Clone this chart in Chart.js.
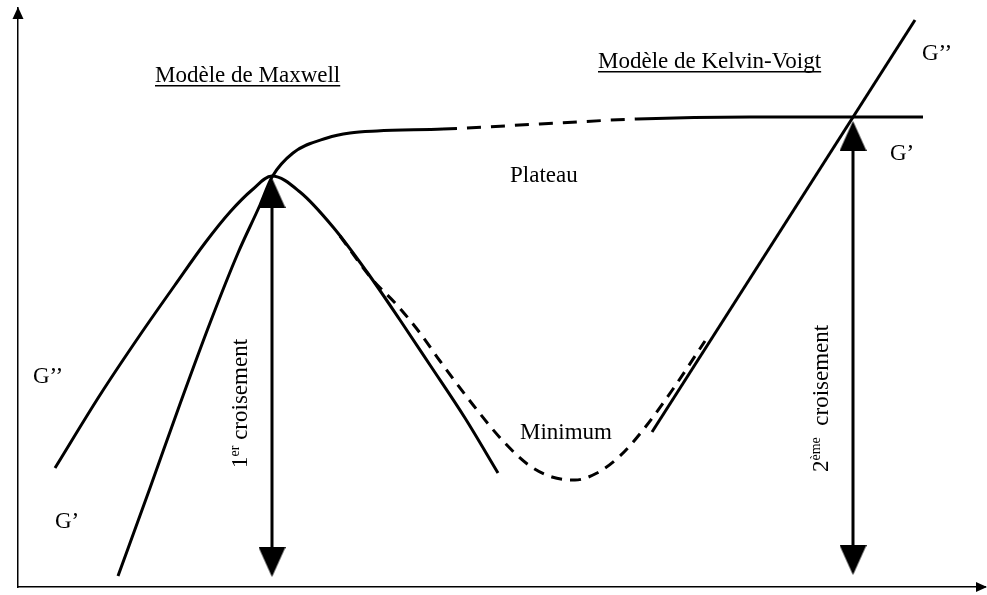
<!DOCTYPE html>
<html lang="fr">
<head>
  <meta charset="UTF-8">
  <title>G' et G'' - Maxwell / Kelvin-Voigt</title>
  <script src="https://cdn.jsdelivr.net/npm/chart.js"></script>
  <style>
    body {
      margin: 0;
      background: #fff;
    }
    canvas {
      display: block;
    }
  </style>
</head>
<body>
  <canvas id="modulesChart" width="987" height="595"></canvas>

  <script>
    // G'' côté Maxwell (la bosse)
    const g2MaxwellX = [37, 82, 122, 157, 187, 212, 234, 254, 282, 315, 349, 382, 412, 447, 480];
    const g2MaxwellY = [119, 192, 252, 302, 344, 375, 397, 411, 395, 360, 315, 267, 222, 169, 114];

    // G' : montée puis plateau
    const g1X = [100, 132, 162, 192, 220, 242, 254, 275, 309, 332, 359, 425, 522, 619, 732, 835, 905];
    const g1Y = [11, 99, 183, 264, 334, 382, 410, 434, 449, 454, 456, 458, 463, 468, 470, 470, 470];
    const plateauDashFrom = 425;
    const plateauDashTo = 619;

    // G'' réel en pointillés (le minimum)
    const g2RealX = [322, 354, 379, 402, 422, 452, 485, 512, 534, 557, 579, 602, 625, 655, 687];
    const g2RealY = [351, 308, 282, 254, 226, 186, 146, 121, 110, 107, 114, 131, 157, 198, 246];

    // G'' côté Kelvin-Voigt
    const g2KelvinX = [634, 897];
    const g2KelvinY = [155, 567];

    // les deux croisements (flèches)
    const cross1X = [254, 254];
    const cross1Y = [394, 25];
    const cross2X = [835, 835];
    const cross2Y = [451, 27];

    const toPoints = (xs, ys) => xs.map((x, i) => ({ x: x, y: ys[i] }));

    // tête de flèche des croisements
    function arrowHead(w, h) {
      const c = document.createElement('canvas');
      c.width = w;
      c.height = h;
      const g = c.getContext('2d');
      g.fillStyle = '#000';
      g.beginPath();
      g.moveTo(w / 2, 0);
      g.lineTo(w, h);
      g.lineTo(0, h);
      g.closePath();
      g.fill();
      return c;
    }
    const head = arrowHead(27, 30);

    const FONT = '23px "Liberation Serif", "DejaVu Serif", serif';

    const notes = [
      { text: 'Modèle de Maxwell', x: 137, y: 505, underline: true },
      { text: 'Modèle de Kelvin-Voigt', x: 580, y: 519, underline: true },
      { text: 'Plateau', x: 492, y: 405 },
      { text: 'Minimum', x: 502, y: 148 },
      { text: 'G’’', x: 904, y: 527 },
      { text: 'G’', x: 872, y: 427 },
      { text: 'G’’', x: 15, y: 204 },
      { text: 'G’', x: 37, y: 59 }
    ];
    const verticalNotes = [
      { base: '1', sup: 'er', rest: ' croisement', x: 229, y: 119 },
      { base: '2', sup: 'ème', rest: '  croisement', x: 810, y: 115 }
    ];

    const decorations = {
      id: 'decorations',
      afterDraw(chart) {
        const { ctx, chartArea: a, scales: { x, y } } = chart;
        ctx.save();
        ctx.fillStyle = '#000';

        // flèches des axes
        ctx.beginPath();
        ctx.moveTo(a.left, a.top - 1);
        ctx.lineTo(a.left + 5.5, a.top + 11);
        ctx.lineTo(a.left - 5.5, a.top + 11);
        ctx.closePath();
        ctx.fill();
        ctx.beginPath();
        ctx.moveTo(a.right + 2, a.bottom);
        ctx.lineTo(a.right - 9, a.bottom - 5);
        ctx.lineTo(a.right - 9, a.bottom + 5);
        ctx.closePath();
        ctx.fill();

        ctx.font = FONT;
        ctx.textBaseline = 'alphabetic';
        ctx.textAlign = 'left';
        notes.forEach(n => {
          const px = x.getPixelForValue(n.x);
          const py = y.getPixelForValue(n.y);
          ctx.fillText(n.text, px, py);
          if (n.underline) {
            const w = ctx.measureText(n.text).width;
            ctx.fillRect(px, py + 3, w, 1.5);
          }
        });

        verticalNotes.forEach(n => {
          ctx.save();
          ctx.translate(x.getPixelForValue(n.x), y.getPixelForValue(n.y));
          ctx.rotate(-Math.PI / 2);
          ctx.font = FONT;
          ctx.fillText(n.base, 0, 0);
          let off = ctx.measureText(n.base).width;
          ctx.font = '14px "Liberation Serif", serif';
          ctx.fillText(n.sup, off, -8);
          off += ctx.measureText(n.sup).width;
          ctx.font = FONT;
          ctx.fillText(n.rest, off, 0);
          ctx.restore();
        });
        ctx.restore();
      }
    };

    const curve = {
      showLine: true,
      pointRadius: 0,
      borderColor: '#000',
      borderWidth: 3,
      cubicInterpolationMode: 'monotone',
      fill: false
    };

    new Chart(document.getElementById('modulesChart'), {
      type: 'scatter',
      data: {
        datasets: [
          Object.assign({}, curve, { label: "G'' Maxwell", data: toPoints(g2MaxwellX, g2MaxwellY) }),
          Object.assign({}, curve, {
            label: "G'",
            data: toPoints(g1X, g1Y),
            segment: {
              borderDash: c => (c.p0.parsed.x >= plateauDashFrom && c.p1.parsed.x <= plateauDashTo) ? [14, 10] : undefined
            }
          }),
          Object.assign({}, curve, { label: "G'' réel", data: toPoints(g2RealX, g2RealY), borderDash: [11, 8] }),
          Object.assign({}, curve, { label: "G'' Kelvin-Voigt", data: toPoints(g2KelvinX, g2KelvinY) }),
          {
            label: '1er croisement',
            data: toPoints(cross1X, cross1Y),
            showLine: true,
            borderColor: '#000',
            borderWidth: 3,
            pointStyle: head,
            pointRotation: [0, 180],
            pointRadius: 15,
            backgroundColor: '#000'
          },
          {
            label: '2ème croisement',
            data: toPoints(cross2X, cross2Y),
            showLine: true,
            borderColor: '#000',
            borderWidth: 3,
            pointStyle: head,
            pointRotation: [0, 180],
            pointRadius: 15,
            backgroundColor: '#000'
          }
        ]
      },
      options: {
        responsive: false,
        animation: false,
        events: [],
        layout: { autoPadding: false, padding: { left: 18, right: 2, top: 8, bottom: 8 } },
        plugins: {
          legend: { display: false },
          tooltip: { enabled: false }
        },
        scales: {
          x: {
            type: 'linear',
            min: 0,
            max: 967,
            ticks: { display: false },
            grid: { display: false, drawTicks: false },
            border: { display: true, color: '#000', width: 1.5 }
          },
          y: {
            type: 'linear',
            min: 0,
            max: 579,
            ticks: { display: false },
            grid: { display: false, drawTicks: false },
            border: { display: true, color: '#000', width: 1.5 }
          }
        }
      },
      plugins: [decorations]
    });
  </script>
</body>
</html>
